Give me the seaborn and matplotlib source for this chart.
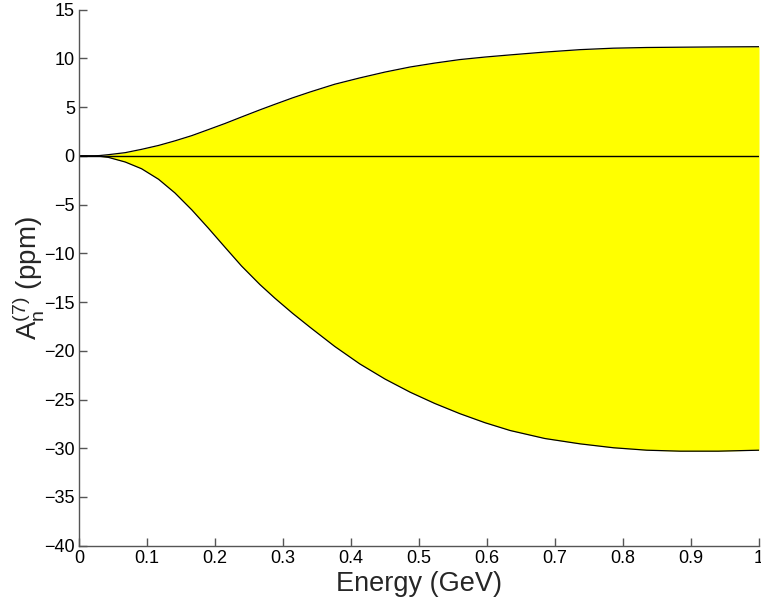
import matplotlib
matplotlib.use('Agg')
import matplotlib.pyplot as plt
import pandas as pd
import seaborn as sns

# Valores (Energia em GeV, assimetria em ppm)
energy = [0.0, 0.02, 0.03, 0.043, 0.068, 0.092, 0.117, 0.141, 0.166, 0.19,
          0.215, 0.239, 0.266, 0.288, 0.314, 0.34, 0.376, 0.413, 0.45, 0.487,
          0.523, 0.56, 0.597, 0.634, 0.685, 0.737, 0.786, 0.835, 0.884, 0.94, 1.0]
upper = [0.0, 0.0, 0.03, 0.12, 0.33, 0.67, 1.07, 1.54, 2.08, 2.69,
         3.33, 3.99, 4.72, 5.29, 5.95, 6.56, 7.35, 8.00, 8.60, 9.12,
         9.52, 9.88, 10.14, 10.36, 10.65, 10.90, 11.05, 11.12, 11.15, 11.18, 11.20]
lower = [0.0, 0.0, -0.04, -0.15, -0.63, -1.32, -2.40, -3.80, -5.55, -7.40,
         -9.40, -11.30, -13.20, -14.60, -16.15, -17.60, -19.55, -21.35, -22.90, -24.25,
         -25.40, -26.45, -27.38, -28.18, -29.00, -29.55, -29.95, -30.20, -30.30, -30.30, -30.20]
baseline = [0.0] * len(energy)

df = pd.DataFrame({'energy': energy, 'upper': upper, 'lower': lower, 'zero': baseline})

sns.set_style('ticks')
plt.rcParams['font.family'] = ['Liberation Sans', 'DejaVu Sans']
plt.rcParams['mathtext.fontset'] = 'custom'
plt.rcParams['mathtext.rm'] = 'Liberation Sans'
plt.rcParams['mathtext.it'] = 'Liberation Sans'

fig = plt.figure(figsize=(7.61, 6.05), dpi=100)
ax = fig.add_axes([0.1038, 0.098, 0.8936, 0.886])

ax.fill_between(df['energy'], df['lower'], df['upper'], color='#ffff00', linewidth=0)
sns.lineplot(data=df, x='energy', y='upper', ax=ax, color='black', linewidth=0.9)
sns.lineplot(data=df, x='energy', y='lower', ax=ax, color='black', linewidth=0.9)
sns.lineplot(data=df, x='energy', y='zero', ax=ax, color='black', linewidth=1.0)

ax.set_xlim(0, 1)
ax.set_ylim(-40, 15)
ax.set_xticks([i / 10 for i in range(11)])
ax.set_xticklabels(['0', '0.1', '0.2', '0.3', '0.4', '0.5', '0.6', '0.7', '0.8', '0.9', '1'])
ax.set_yticks(list(range(-40, 16, 5)))
ax.set_yticklabels([str(v).replace('-', '\u2212') for v in range(-40, 16, 5)])

ax.set_xlabel('Energy (GeV)', fontsize=19.5, labelpad=3)
ax.set_ylabel(r'$\mathrm{A_n^{(7)}}$ (ppm)', fontsize=20, labelpad=-2)

sns.despine(ax=ax)
for s in ['left', 'bottom']:
    ax.spines[s].set_color('#555555')
    ax.spines[s].set_linewidth(1.0)
ax.tick_params(direction='in', length=6, width=1.0, color='#555555',
               labelsize=13, labelcolor='black', pad=3)

fig.savefig('out.png', dpi=100)
